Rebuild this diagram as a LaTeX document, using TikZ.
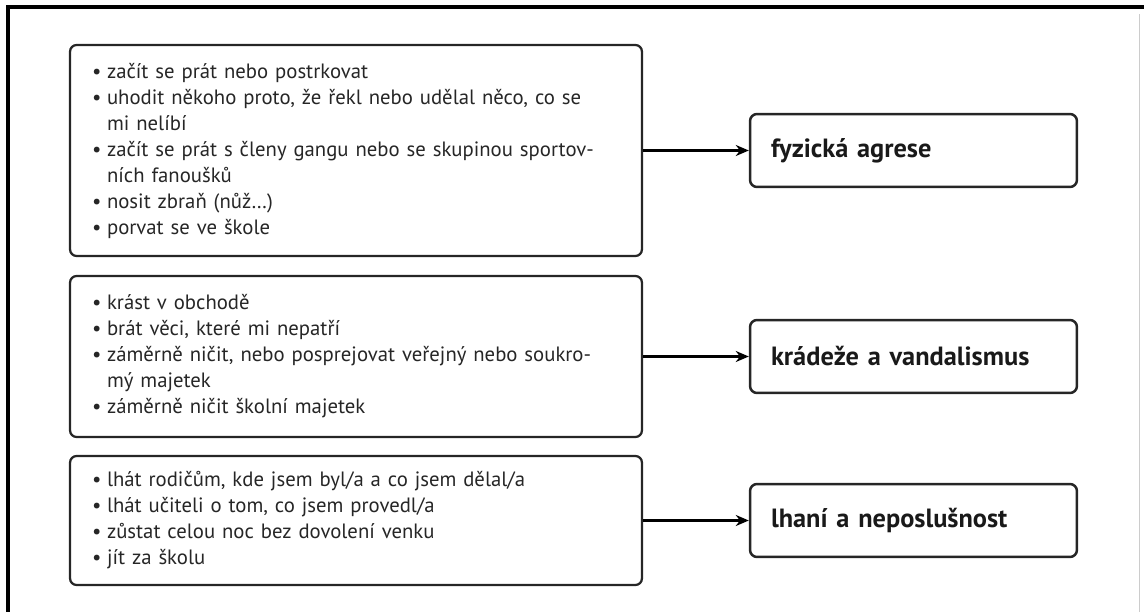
\documentclass[tikz,border=0pt]{standalone}
\usepackage{fontspec}
\setmainfont{PT Sans}
\usetikzlibrary{arrows.meta}

% bullet and continuation indent for the list lines
\newcommand\blt{\makebox[0.3cm][l]{\textbullet}}
\newcommand\cnt{\hspace*{0.3cm}}

\begin{document}
\begin{tikzpicture}[x=0.02cm, y=-0.02cm,
  listbox/.style={draw=black!85, line width=0.045cm, rounded corners=0.13cm,
    minimum width=11.44cm, text width=10.56cm, inner xsep=0.44cm, align=left,
    font=\fontsize{11.8}{14.8}\selectfont, text=black!85},
  catbox/.style={draw=black!85, line width=0.05cm, rounded corners=0.14cm,
    minimum width=6.54cm, minimum height=1.46cm, text width=5.7cm,
    inner xsep=0.42cm, align=left, font=\fontsize{15}{17}\selectfont\bfseries,
    text=black!90},
  arr/.style={line width=0.05cm, -{Stealth[length=0.26cm, width=0.22cm]}}]

  \useasboundingbox (0,0) rectangle (1144,612);

  % Frame
  \draw[line width=0.065cm] (8,612) -- (8,7) -- (1144,7);
  \draw[black!20, line width=0.02cm] (1139,14) -- (1139,612);

  % Lists of behaviours
  \node[listbox, minimum height=4.22cm] (fyz) at (356,150.5) {%
    \blt začít se prát nebo postrkovat\\
    \blt uhodit někoho proto, že řekl nebo udělal něco, co se\\
    \cnt mi nelíbí\\
    \blt začít se prát s členy gangu nebo se skupinou sportov-\\
    \cnt ních fanoušků\\
    \blt nosit zbraň (nůž…)\\
    \blt porvat se ve škole};
  \node[listbox, minimum height=3.22cm] (kra) at (356,356.5) {%
    \blt krást v obchodě\\
    \blt brát věci, které mi nepatří\\
    \blt záměrně ničit, nebo posprejovat veřejný nebo soukro-\\
    \cnt mý majetek\\
    \blt záměrně ničit školní majetek};
  \node[listbox, minimum height=2.58cm] (lha) at (356,520.5) {%
    \blt lhát rodičům, kde jsem byl/a a co jsem dělal/a\\
    \blt lhát učiteli o tom, co jsem provedl/a\\
    \blt zůstat celou noc bez dovolení venku\\
    \blt jít za školu};

  % Categories
  \node[catbox] (agrese) at (913.5,150.5) {fyzická agrese};
  \node[catbox] (vandal) at (913.5,356.5) {krádeže a vandalismus};
  \node[catbox] (neposl) at (913.5,520.5) {lhaní a neposlušnost};

  % Arrows
  \draw[arr] (fyz) -- (agrese);
  \draw[arr] (kra) -- (vandal);
  \draw[arr] (lha) -- (neposl);

\end{tikzpicture}
\end{document}
